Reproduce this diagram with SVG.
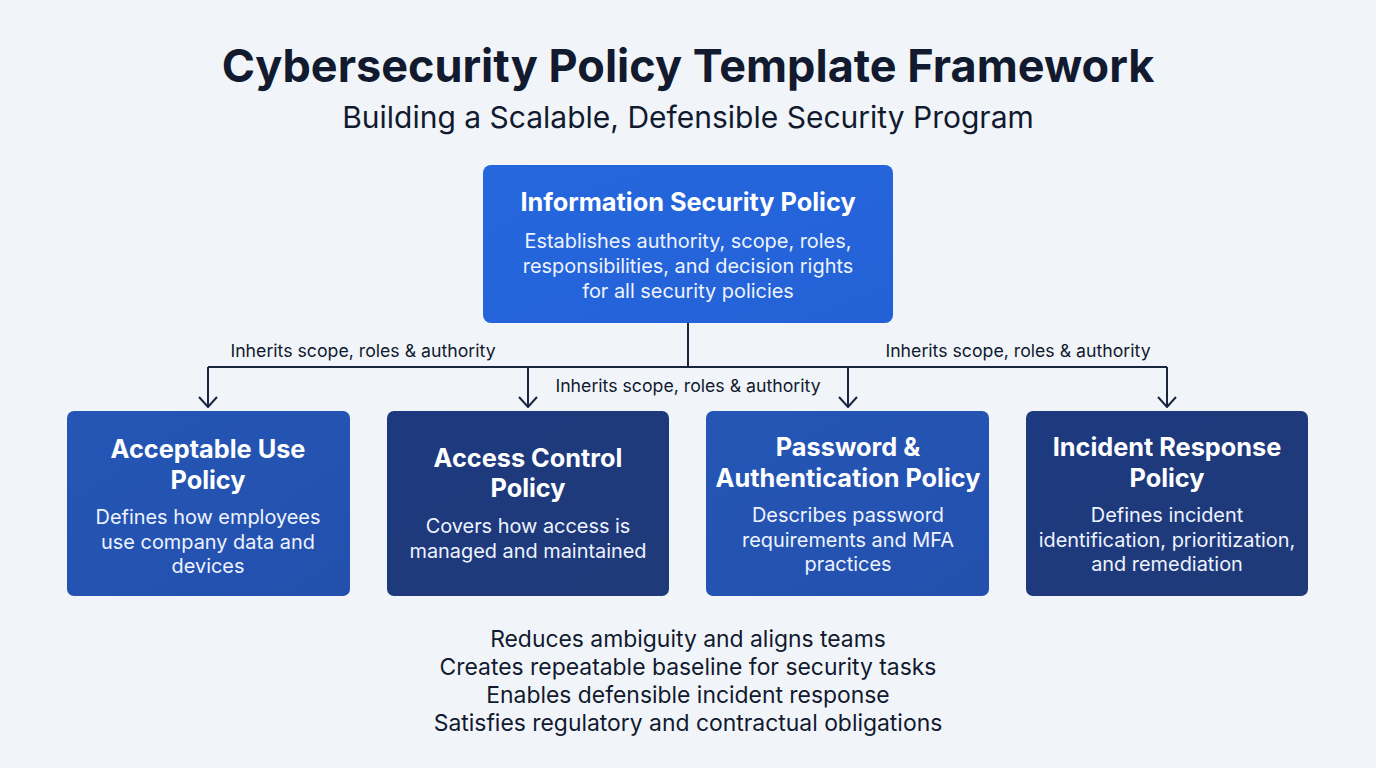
<svg xmlns="http://www.w3.org/2000/svg" width="1376" height="768" viewBox="0 0 1376 768">
<defs>
<style>
.title{font-family:Inter,"Liberation Sans",sans-serif;font-weight:700;font-size:45px;fill:#111a2e;text-anchor:middle}
.sub{font-family:Inter,"Liberation Sans",sans-serif;font-size:30px;fill:#111a2e;text-anchor:middle}
.nt{font-family:Inter,"Liberation Sans",sans-serif;font-weight:700;font-size:25.3px;fill:#fff;text-anchor:middle}
.nd{font-family:Inter,"Liberation Sans",sans-serif;font-size:19.9px;fill:#eef3ff;text-anchor:middle}
.lbl{font-family:Inter,"Liberation Sans",sans-serif;font-size:17.7px;fill:#111a2e;text-anchor:middle}
.foot{font-family:Inter,"Liberation Sans",sans-serif;font-size:22.9px;fill:#111a2e;text-anchor:middle}
.conn{fill:none;stroke:#1a2540;stroke-width:2}
</style>
<linearGradient id="gTop" x1="0" y1="0" x2="1" y2="1"><stop offset="0" stop-color="#2667de"/><stop offset="1" stop-color="#2361d6"/></linearGradient>
<linearGradient id="gMid" x1="0" y1="0" x2="1" y2="1"><stop offset="0" stop-color="#2556b6"/><stop offset="1" stop-color="#2350ad"/></linearGradient>
<linearGradient id="gDark" x1="0" y1="0" x2="1" y2="1"><stop offset="0" stop-color="#1d3a80"/><stop offset="1" stop-color="#1f3a78"/></linearGradient>
<marker id="arr" viewBox="0 0 12 20" refX="11" refY="10" markerWidth="12" markerHeight="20" markerUnits="userSpaceOnUse" orient="auto">
<path d="M1 1 L11 10 L1 19" fill="none" stroke="#1a2540" stroke-width="2"/>
</marker>
</defs>
<rect width="1376" height="768" fill="#f1f5fa"/>
<text class="title" x="688" y="82">Cybersecurity Policy Template Framework</text>
<text class="sub" x="688" y="128">Building a Scalable, Defensible Security Program</text>

<g id="connectors">
<path class="conn" d="M688 323 V367 M208 367 H1167"/>
<path class="conn" d="M208 367 V407" marker-end="url(#arr)"/>
<path class="conn" d="M528 367 V407" marker-end="url(#arr)"/>
<path class="conn" d="M848 367 V407" marker-end="url(#arr)"/>
<path class="conn" d="M1167 367 V407" marker-end="url(#arr)"/>
<text class="lbl" x="363" y="357">Inherits scope, roles &amp; authority</text>
<text class="lbl" x="688" y="392">Inherits scope, roles &amp; authority</text>
<text class="lbl" x="1018" y="357">Inherits scope, roles &amp; authority</text>
</g>

<g id="node-isp">
<rect x="483" y="165" width="410" height="158" rx="8" fill="url(#gTop)"/>
<text class="nt" x="688" y="211">Information Security Policy</text>
<text class="nd" x="688" y="248">Establishes authority, scope, roles,</text>
<text class="nd" x="688" y="273">responsibilities, and decision rights</text>
<text class="nd" x="688" y="298">for all security policies</text>
</g>

<g id="node-aup">
<rect x="67" y="411" width="283" height="185" rx="7" fill="url(#gMid)"/>
<text class="nt" x="208" y="458">Acceptable Use</text>
<text class="nt" x="208" y="489">Policy</text>
<text class="nd" x="208" y="524">Defines how employees</text>
<text class="nd" x="208" y="549">use company data and</text>
<text class="nd" x="208" y="573">devices</text>
</g>

<g id="node-acp">
<rect x="387" y="411" width="282" height="185" rx="7" fill="url(#gDark)"/>
<text class="nt" x="528" y="467">Access Control</text>
<text class="nt" x="528" y="497">Policy</text>
<text class="nd" x="528" y="533">Covers how access is</text>
<text class="nd" x="528" y="558">managed and maintained</text>
</g>

<g id="node-pap">
<rect x="706" y="411" width="283" height="185" rx="7" fill="url(#gMid)"/>
<text class="nt" x="848" y="456">Password &amp;</text>
<text class="nt" x="848" y="487">Authentication Policy</text>
<text class="nd" x="848" y="522">Describes password</text>
<text class="nd" x="848" y="547">requirements and MFA</text>
<text class="nd" x="848" y="571">practices</text>
</g>

<g id="node-irp">
<rect x="1026" y="411" width="282" height="185" rx="7" fill="url(#gDark)"/>
<text class="nt" x="1167" y="456">Incident Response</text>
<text class="nt" x="1167" y="487">Policy</text>
<text class="nd" x="1167" y="522">Defines incident</text>
<text class="nd" x="1167" y="547">identification, prioritization,</text>
<text class="nd" x="1167" y="571">and remediation</text>
</g>

<g id="footer">
<text class="foot" x="688" y="647">Reduces ambiguity and aligns teams</text>
<text class="foot" x="688" y="675">Creates repeatable baseline for security tasks</text>
<text class="foot" x="688" y="703">Enables defensible incident response</text>
<text class="foot" x="688" y="731">Satisfies regulatory and contractual obligations</text>
</g>
</svg>
